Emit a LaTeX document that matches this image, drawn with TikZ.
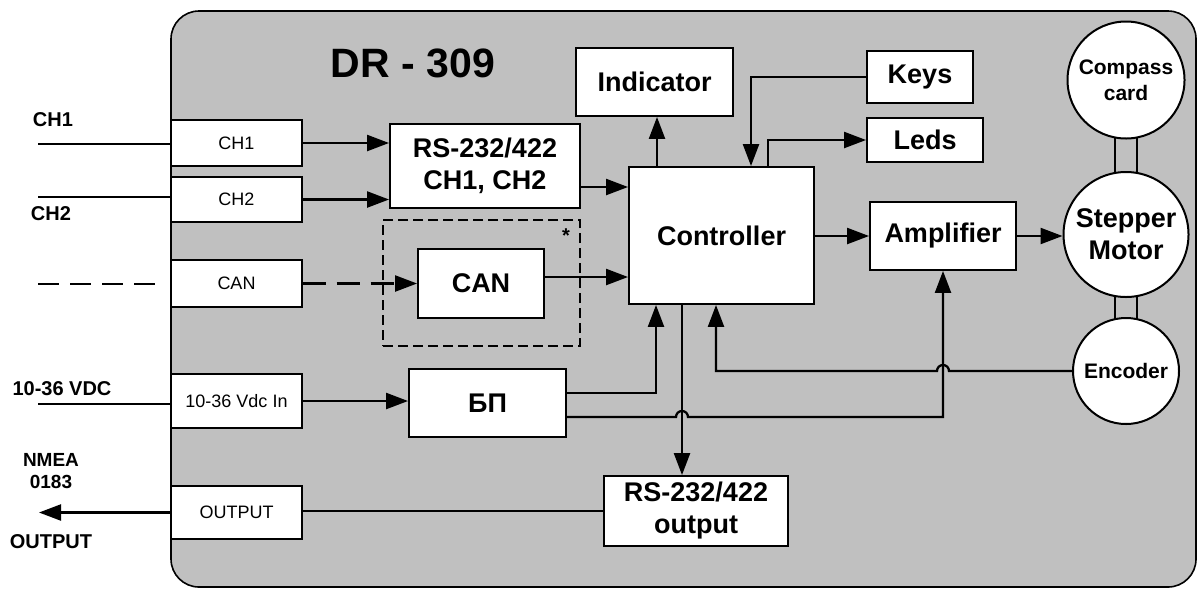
\documentclass[tikz,border=0pt]{standalone}
\usepackage{fontspec}
\setmainfont{Liberation Sans}
\usetikzlibrary{arrows.meta,backgrounds}
\definecolor{panel}{HTML}{C0C0C0}
\definecolor{ink}{HTML}{000000}
\tikzset{
  >={Triangle[length=22pt,width=16pt]},
  big/.style={font=\fontsize{27}{32}\selectfont\bfseries},
  comp/.style={draw=ink,line width=1.9pt,fill=white,align=center,inner sep=0pt,big},
  port/.style={draw=ink,line width=1.3pt,fill=white,inner sep=0pt,minimum width=131pt,font=\fontsize{18}{21}\selectfont},
  disc/.style={circle,draw=ink,line width=2pt,fill=white,align=center,inner sep=0pt,big},
  smalldisc/.style={disc,font=\fontsize{21}{26}\selectfont\bfseries},
  extlab/.style={font=\fontsize{20}{22}\selectfont\bfseries,align=center,inner sep=0pt},
  wire/.style={line width=2.3pt,draw=ink},
  arrow/.style={wire,->},
  dashwire/.style={wire,dash pattern=on 21pt off 11pt},
  frame/.style={draw=ink,line width=1.3pt,dash pattern=on 10pt off 5pt,inner sep=0pt}
}
\begin{document}
\begin{tikzpicture}[x=1pt,y=-1pt]
  \useasboundingbox (0,0) rectangle (1198,590);
  \node[font=\fontsize{41}{48}\selectfont\bfseries] (title) at (413,63) {DR - 309};

  % input and output ports
  \node[port,minimum height=46pt] (pch1) at (236.5,143) {CH1};
  \node[port,minimum height=45pt] (pch2) at (236.5,199.5) {CH2};
  \node[port,minimum height=47pt] (pcan) at (236.5,283.5) {CAN};
  \node[port,minimum height=54pt] (ppwr) at (236.5,401) {10-36 Vdc In};
  \node[port,minimum height=53pt] (pout) at (236.5,512.5) {OUTPUT};

  % blocks
  \node[comp,minimum width=190pt,minimum height=84pt] (rs) at (485,166) {RS-232/422\\CH1, CH2};
  \node[frame,minimum width=197pt,minimum height=126pt] (canzone) at (481.5,283) {};
  \node[font=\fontsize{20}{22}\selectfont\bfseries,inner sep=0pt] (star) at (566,236) {*};
  \node[comp,minimum width=126pt,minimum height=69pt] (can) at (481,283.5) {CAN};
  \node[comp,minimum width=157pt,minimum height=68pt] (bp) at (487.5,403) {БП};
  \node[comp,minimum width=157pt,minimum height=68pt] (ind) at (654.5,82) {Indicator};
  \node[comp,minimum width=185pt,minimum height=137pt] (ctrl) at (721.5,235.5) {Controller};
  \node[comp,minimum width=184pt,minimum height=70pt] (rsout) at (696,511) {RS-232/422\\output};
  \node[comp,minimum width=106pt,minimum height=52pt] (keys) at (920,77) {Keys};
  \node[comp,minimum width=116pt,minimum height=44pt] (leds) at (925,140) {Leds};
  \node[comp,minimum width=146pt,minimum height=68pt] (amp) at (943,236) {Amplifier};
  \node[smalldisc,minimum size=117pt] (compass) at (1126,80) {Compass\\card};
  \node[disc,minimum size=125pt] (motor) at (1126,234.5) {Stepper\\Motor};
  \node[smalldisc,minimum size=106pt] (enc) at (1126,371) {Encoder};

  % outside labels
  \node[extlab] (lch1) at (53,120) {CH1};
  \node[extlab] (lch2) at (51,214) {CH2};
  \node[extlab] (lpwr) at (62,389) {10-36 VDC};
  \node[extlab,font=\fontsize{19}{22}\selectfont\bfseries] (lnmea) at (51,471) {NMEA\\0183};
  \node[extlab] (lout) at (51,542) {OUTPUT};
  \coordinate (ech1) at (38,144);
  \coordinate (ech2) at (38,197);
  \coordinate (ecan) at (38,284);
  \coordinate (epwr) at (38,404);
  \coordinate (eout) at (39,512.5);

  \begin{scope}[on background layer]
    \draw[fill=panel,draw=ink,line width=1.6pt,rounded corners=28pt] (171,11) rectangle (1196,587);
    \draw[wire] (compass -| 1115,0) -- (enc -| 1115,0);
    \draw[wire] (compass -| 1137,0) -- (enc -| 1137,0);
  \end{scope}

  \draw[wire] (ech1) -- (ech1 -| pch1.west);
  \draw[wire] (ech2) -- (ech2 -| pch2.west);
  \draw[dashwire] (ecan) -- (ecan -| 161,0);
  \draw[wire] (epwr) -- (epwr -| ppwr.west);
  \draw[arrow] (pout.west) -- (eout);

  \draw[arrow] (pch1.east) -- (pch1.east -| rs.west);
  \draw[arrow] (pch2.east) -- (pch2.east -| rs.west);
  \draw[arrow,dash pattern=on 23pt off 11pt] (pcan.east) -- (pcan.east -| can.west);
  \draw[arrow] (ppwr.east) -- (ppwr.east -| bp.west);
  \draw[arrow] (rs.east |- 0,187) -- (ctrl.west |- 0,187);
  \draw[arrow] (can.east |- 0,277) -- (ctrl.west |- 0,277);
  \draw[arrow] (ctrl.north -| 657,0) -- (ind.south -| 657,0);
  \draw[arrow] (keys.west) -| (ctrl.north -| 751,0);
  \draw[arrow] (ctrl.north -| 768,0) |- (leds.west);
  \draw[arrow] (ctrl.east |- amp) -- (amp.west);
  \draw[arrow] (amp.east) -- (amp.east -| motor.west);
  \draw[arrow] (enc.west) -- (enc.west -| 949,0) arc[start angle=0,end angle=180,radius=6pt] -| (ctrl.south -| 716,0);
  \draw[arrow] (bp.east |- 0,393) -| (ctrl.south -| 656,0);
  \draw[arrow] (bp.east |- 0,417) -- (676,417) arc[start angle=180,end angle=0,radius=6pt] -| (amp.south);
  \draw[arrow] (ctrl.south -| 682,0) -- (rsout.north -| 682,0);
  \draw[wire] (rsout.west) -- (rsout.west -| pout.east);
\end{tikzpicture}
\end{document}
